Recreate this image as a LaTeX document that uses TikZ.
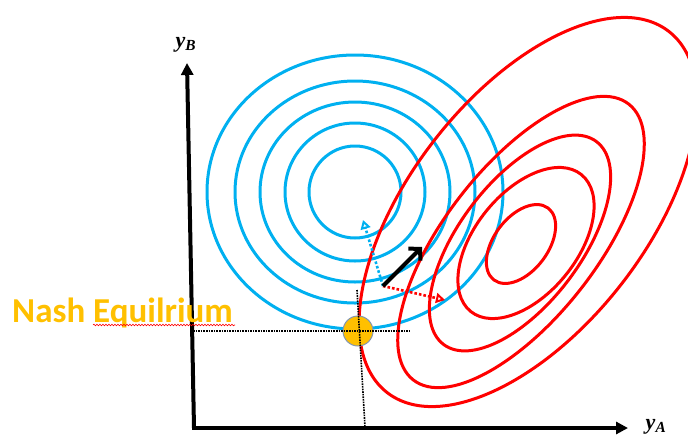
\documentclass[tikz,border=0pt]{standalone}
\usepackage{fontspec}
\newfontfamily\nashfont{Carlito}
\newfontfamily\lblfont{Liberation Serif}
\usetikzlibrary{arrows.meta,decorations.pathmorphing}
\definecolor{cblue}{HTML}{00B0F0}
\definecolor{cred}{HTML}{FF0000}
\definecolor{corange}{HTML}{FFC000}
\definecolor{cgrey}{HTML}{8497B0}
\begin{document}
\begin{tikzpicture}[x=1pt,y=-1pt,
  bluec/.style={draw=cblue,line width=3pt},
  redc/.style={draw=cred,line width=3pt},
  axisline/.style={line width=4pt,-{Triangle[length=12pt,width=12pt]}},
  guide/.style={densely dotted,line width=1.6pt},
  nashpt/.style={circle,fill=corange,draw=cgrey,line width=1pt,minimum size=30pt,inner sep=0pt},
  dotarrow/.style={dotted,line width=2.6pt,-{Triangle[open,length=9pt,width=10pt,line width=2pt]}},
  mainarrow/.style={line width=4pt,-{Straight Barb[length=8pt,width=17pt]}},
  axlabel/.style={font=\lblfont\bfseries\itshape\fontsize{22}{26}\selectfont,inner sep=0pt}]
\useasboundingbox (0,0) rectangle (688,437);
\clip (0,0) rectangle (688,437);
% blue contours
\foreach \rx/\ry in {46/46,70/69,95/90,120/111,148/137}
  \draw[bluec] (355,192) ellipse [x radius=\rx pt, y radius=\ry pt];
% red contours
\foreach \cx/\cy/\a/\b/\t in {528/212/229/118/52, 521/242/175/76/52, 520/243/127/61/53, 526/243/88/51/51, 521/244/45/27/53}
  \draw[redc, shift={(\cx,\cy)}, rotate=\t] (0,0) ellipse [x radius=\a pt, y radius=\b pt];
% Nash point
\node[nashpt] (ne) at (358,331) {};
% guides
\coordinate (hl) at (193,331); \coordinate (hr) at (410,331);
\coordinate (vt) at (357,290); \coordinate (vb) at (365,427);
\draw[guide] (hl) -- (hr);
\draw[guide] (vt) -- (vb);
% arrows
\coordinate (o) at (383,286);
\coordinate (tb) at (422,247);
\coordinate (tu) at (363,220);
\coordinate (tr) at (445,300);
\draw[dotarrow,cblue] (o) -- (tu);
\draw[dotarrow,cred] (o) -- (tr);
\draw[mainarrow] (o) -- (tb);
% axes
\coordinate (org) at (194,428);
\coordinate (ytop) at (187,63);
\coordinate (xstart) at (192,428);
\coordinate (xend) at (628,428);
\draw[axisline] (org) -- (ytop);
\draw[axisline] (xstart) -- (xend);
\node[axlabel] (labelB) at (186,45) {y\textsubscript{B}};
\node[axlabel] (labelA) at (656,427) {y\textsubscript{A}};
% label
\node[anchor=base west,text=corange,font=\nashfont\bfseries\fontsize{35}{40}\selectfont,inner sep=0pt] (nl) at (12,322) {Nash Equilrium};
\draw[cred,line width=0.6pt,decorate,decoration={snake,amplitude=0.8pt,segment length=3pt}] (93,325) -- (235,325);
\end{tikzpicture}
\end{document}
